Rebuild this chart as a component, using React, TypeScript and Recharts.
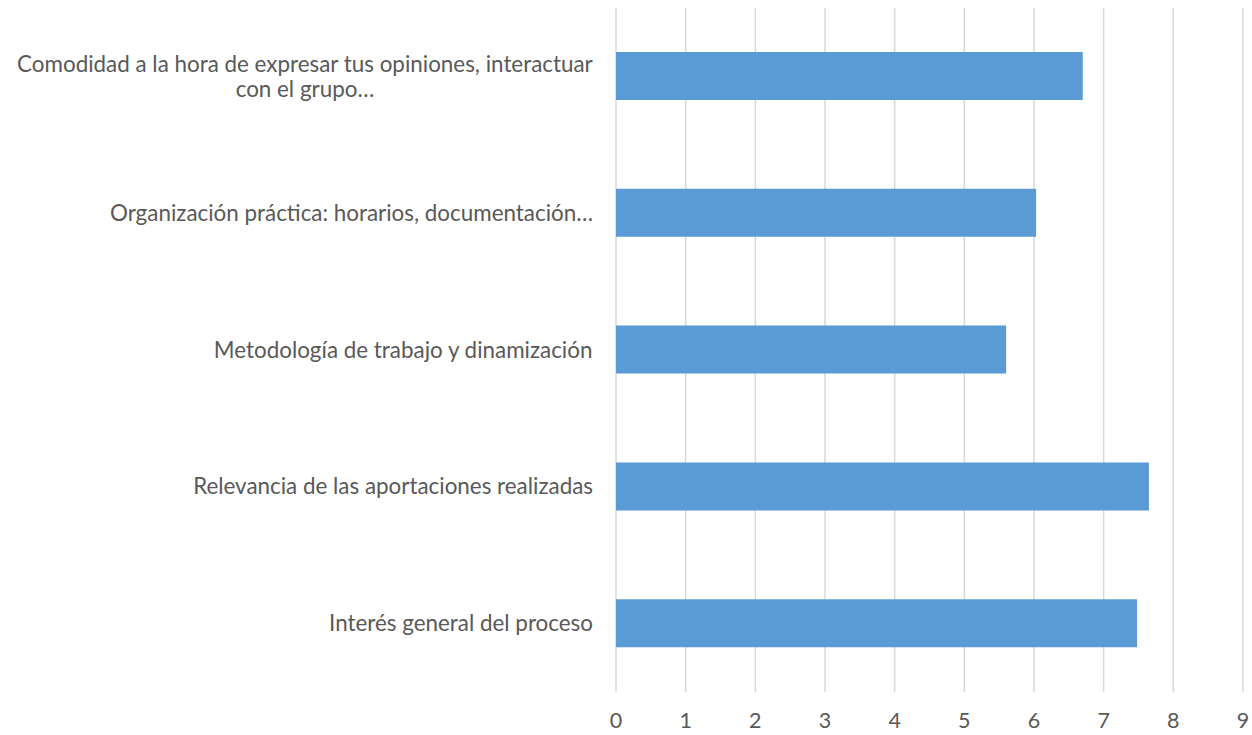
import { BarChart, Bar, XAxis, YAxis, CartesianGrid } from "recharts";

const categorias = [
  "Comodidad a la hora de expresar tus opiniones, interactuar con el grupo…",
  "Organización práctica: horarios, documentación…",
  "Metodología de trabajo y dinamización",
  "Relevancia de las aportaciones realizadas",
  "Interés general del proceso",
];
const valores = [6.7, 6.03, 5.6, 7.65, 7.48];
const ticksX = [0, 1, 2, 3, 4, 5, 6, 7, 8, 9];

const AZUL = "#5b9bd5";
const TEXTO = "#595959";
const REJILLA = "#d9d9d9";
const FUENTE = "Lato";
const TAM = 22.4;
const MAX_LINEA = 590;

let ctx: CanvasRenderingContext2D | null = null;
function medir(s: string) {
  if (!ctx) ctx = document.createElement("canvas").getContext("2d");
  if (!ctx) return s.length * TAM * 0.5;
  ctx.font = `${TAM}px ${FUENTE}`;
  return ctx.measureText(s).width;
}

function partir(s: string) {
  const palabras = s.split(" ");
  const lineas: string[] = [];
  let actual = "";
  for (const p of palabras) {
    const prueba = actual ? actual + " " + p : p;
    if (actual && medir(prueba) > MAX_LINEA) {
      lineas.push(actual);
      actual = p;
    } else actual = prueba;
  }
  if (actual) lineas.push(actual);
  return lineas;
}

function EtiquetaY({ x, y, payload }: any) {
  const lineas = partir(String(payload.value));
  const ancho = Math.max(...lineas.map(medir));
  const cx = x - ancho / 2;
  const alto = 25;
  const inicio = y - ((lineas.length - 1) * alto) / 2;
  return (
    <g>
      {lineas.map((l, i) => (
        <text
          key={i}
          x={cx}
          y={inicio + i * alto}
          dy="0.34em"
          textAnchor="middle"
          fill={TEXTO}
          fontSize={TAM}
          fontFamily={FUENTE}
        >
          {l}
        </text>
      ))}
    </g>
  );
}

export default function App() {
  const datos = categorias.map((c, i) => ({ categoria: c, valor: valores[i] }));
  return (
    <div style={{ position: "absolute", left: 0, top: 0, background: "#fff" }}>
      <BarChart
        width={1252}
        height={735}
        data={datos}
        layout="vertical"
        margin={{ top: 8, right: 9, left: 0, bottom: 0 }}
        barSize={48}
      >
        <CartesianGrid horizontal={false} stroke={REJILLA} strokeWidth={1.5} />
        <XAxis
          type="number"
          domain={[0, 9]}
          ticks={ticksX}
          axisLine={false}
          tickLine={false}
          tickSize={0}
          tickMargin={21}
          height={43}
          tick={{ fill: TEXTO, fontSize: 21.5, fontFamily: FUENTE }}
        />
        <YAxis
          type="category"
          dataKey="categoria"
          width={616}
          axisLine={false}
          tickLine={false}
          tickSize={0}
          tickMargin={23}
          tick={<EtiquetaY />}
          interval={0}
        />
        <Bar dataKey="valor" fill={AZUL} isAnimationActive={false} />
      </BarChart>
    </div>
  );
}
